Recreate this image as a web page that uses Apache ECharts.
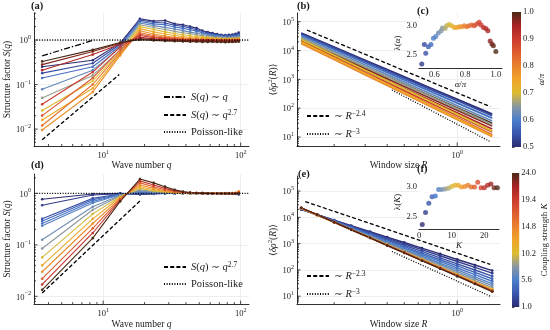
<!DOCTYPE html>
<html><head><meta charset="utf-8">
<script src="https://cdn.jsdelivr.net/npm/echarts@6/dist/echarts.min.js"></script>
<style>html,body{margin:0;padding:0;background:#fff}#c{width:550px;height:330px}</style>
</head><body><div id="c"></div>
<script>
// ---------------- DATA ----------------
// (a) structure factor vs wave number, colored by alpha/pi
const qA = [3.6, 8.4, 13.3, 18.5, 23.3, 28.2, 33.1, 38, 42.9, 47.8, 52.7, 57.6, 62.5, 67.4, 72.3, 77.2, 82.1, 87, 91.9, 96.8];
const alphaA = [0.50, 0.54, 0.58, 0.62, 0.66, 0.70, 0.74, 0.78, 0.82, 0.86, 0.90, 0.94, 0.97, 1.00];
const sqA = [
  [0.25, 0.35, 0.85, 3.0, 2.65, 2.75, 2.3, 2.2, 2.0, 1.85, 1.62, 1.5, 1.43, 1.36, 1.31, 1.29, 1.3, 1.33, 1.38, 1.46],
  [0.18, 0.30, 0.80, 2.8, 2.5, 2.4, 2.15, 2.02, 1.86, 1.7, 1.55, 1.43, 1.36, 1.3, 1.27, 1.25, 1.24, 1.27, 1.31, 1.36],
  [0.14, 0.25, 0.74, 2.6, 2.3, 2.2, 1.96, 1.82, 1.7, 1.58, 1.46, 1.36, 1.3, 1.25, 1.22, 1.2, 1.2, 1.21, 1.23, 1.27],
  [0.078, 0.21, 0.68, 2.4, 2.1, 1.92, 1.76, 1.62, 1.5, 1.42, 1.34, 1.27, 1.22, 1.18, 1.16, 1.15, 1.14, 1.15, 1.17, 1.2],
  [0.05, 0.16, 0.6, 2.2, 1.9, 1.72, 1.56, 1.46, 1.38, 1.31, 1.25, 1.2, 1.16, 1.13, 1.12, 1.1, 1.1, 1.11, 1.12, 1.14],
  [0.026, 0.12, 0.55, 2.0, 1.72, 1.52, 1.4, 1.31, 1.25, 1.2, 1.16, 1.13, 1.1, 1.08, 1.07, 1.06, 1.06, 1.06, 1.07, 1.09],
  [0.016, 0.082, 0.48, 1.8, 1.52, 1.36, 1.26, 1.19, 1.14, 1.12, 1.1, 1.08, 1.06, 1.05, 1.04, 1.04, 1.03, 1.04, 1.04, 1.05],
  [0.0095, 0.068, 0.45, 1.62, 1.36, 1.23, 1.15, 1.1, 1.08, 1.06, 1.05, 1.04, 1.03, 1.02, 1.02, 1.01, 1.01, 1.02, 1.02, 1.03],
  [0.012, 0.10, 0.52, 1.46, 1.26, 1.15, 1.1, 1.06, 1.04, 1.03, 1.02, 1.02, 1.01, 1.0, 1.01, 1.0, 1.0, 1.0, 1.01, 1.01],
  [0.02, 0.14, 0.6, 1.35, 1.18, 1.1, 1.06, 1.03, 1.02, 1.01, 1.0, 1.0, 1.0, 0.99, 0.99, 0.99, 0.98, 0.99, 0.99, 1.0],
  [0.036, 0.19, 0.7, 1.26, 1.12, 1.06, 1.03, 1.01, 1.0, 0.99, 0.99, 0.98, 0.98, 0.98, 0.97, 0.97, 0.97, 0.97, 0.98, 0.98],
  [0.21, 0.47, 0.8, 1.15, 1.06, 1.02, 1.0, 0.98, 0.97, 0.97, 0.96, 0.96, 0.96, 0.95, 0.95, 0.95, 0.94, 0.95, 0.95, 0.96],
  [0.28, 0.55, 0.85, 1.08, 1.02, 0.98, 0.96, 0.95, 0.94, 0.94, 0.93, 0.93, 0.93, 0.92, 0.92, 0.92, 0.92, 0.92, 0.93, 0.94],
  [0.33, 0.60, 0.88, 1.02, 0.98, 0.95, 0.94, 0.93, 0.92, 0.91, 0.9, 0.9, 0.91, 0.9, 0.9, 0.89, 0.9, 0.9, 0.91, 0.92]
];
// (d) structure factor vs wave number, colored by coupling strength K
const qD = [3.6, 8.4, 13.3, 18.5, 23.3, 28.2, 33.1, 38, 42.9, 47.8, 52.7, 57.6, 62.5, 67.4, 72.3, 77.2, 82.1, 87, 91.9, 96.8];
const kD = [1, 2, 3, 4, 5, 6, 7, 8, 10, 12, 14, 17, 20, 24];
const sqD = [
  [0.77, 0.97, 1.0, 0.95, 0.98, 1.0, 1.0, 1.0, 0.99, 1.0, 1.0, 0.99, 1.0, 1.0, 0.99, 1.0, 1.0, 0.99, 0.98, 0.95],
  [0.59, 0.93, 0.99, 0.97, 0.99, 1.0, 1.0, 1.0, 1.0, 0.99, 1.0, 1.0, 0.99, 1.0, 1.0, 0.99, 1.0, 1.0, 0.99, 0.97],
  [0.32, 0.8, 0.97, 1.0, 1.0, 1.0, 1.0, 1.0, 1.0, 1.0, 0.99, 1.0, 1.0, 1.0, 0.99, 1.0, 1.0, 1.0, 1.0, 0.98],
  [0.29, 0.75, 0.96, 1.02, 1.0, 1.0, 1.0, 1.0, 1.0, 1.0, 1.0, 0.99, 1.0, 1.0, 1.0, 1.0, 0.99, 1.0, 1.0, 1.0],
  [0.26, 0.7, 0.95, 1.05, 1.02, 1.01, 1.0, 1.0, 1.0, 1.0, 1.0, 1.0, 1.0, 1.0, 1.0, 1.0, 1.0, 1.0, 1.01, 1.0],
  [0.235, 0.65, 0.94, 1.08, 1.03, 1.02, 1.01, 1.0, 1.0, 1.0, 1.0, 1.0, 1.0, 1.0, 1.0, 1.0, 1.0, 1.01, 1.0, 1.02],
  [0.126, 0.55, 0.92, 1.12, 1.05, 1.03, 1.01, 1.0, 1.0, 1.0, 1.0, 1.0, 1.0, 1.0, 1.0, 1.0, 1.0, 1.0, 1.01, 1.03],
  [0.085, 0.48, 0.9, 1.18, 1.08, 1.04, 1.02, 1.01, 1.0, 1.0, 1.0, 1.0, 1.0, 1.0, 1.0, 1.0, 1.01, 1.0, 1.0, 1.04],
  [0.057, 0.4, 0.87, 1.25, 1.12, 1.06, 1.03, 1.02, 1.01, 1.0, 1.0, 1.0, 1.0, 1.0, 1.01, 1.0, 1.0, 1.0, 1.02, 1.06],
  [0.04, 0.32, 0.84, 1.35, 1.18, 1.09, 1.04, 1.02, 1.01, 1.01, 1.0, 1.0, 1.01, 1.0, 1.0, 1.0, 1.0, 1.01, 1.02, 1.08],
  [0.03, 0.26, 0.8, 1.45, 1.25, 1.12, 1.06, 1.03, 1.02, 1.01, 1.01, 1.0, 1.0, 1.0, 1.0, 1.01, 1.0, 1.0, 1.01, 1.1],
  [0.022, 0.21, 0.77, 1.6, 1.35, 1.18, 1.09, 1.05, 1.03, 1.02, 1.01, 1.0, 1.0, 1.0, 1.0, 1.0, 1.0, 1.0, 1.0, 1.05],
  [0.017, 0.17, 0.74, 1.75, 1.45, 1.25, 1.12, 1.06, 1.03, 1.02, 1.01, 1.0, 1.0, 0.99, 1.0, 0.99, 1.0, 0.99, 1.0, 1.02],
  [0.0134, 0.135, 0.7, 1.9, 1.6, 1.35, 1.17, 1.08, 1.04, 1.02, 1.01, 1.0, 0.99, 0.99, 0.99, 0.99, 0.99, 0.98, 0.99, 1.0]
];
// (b) density fluctuations vs window size, colored by alpha/pi
const rB = [0.13, 0.2, 0.3, 0.45, 0.7, 1.05, 1.58];
const alphaB = [0.50, 0.54, 0.58, 0.62, 0.66, 0.70, 0.74, 0.78, 0.82, 0.86, 0.90, 0.94, 0.97, 1.00];
const rhoB = [
  [40000, 13150, 4580, 1610, 511, 179, 62],
  [37000, 12080, 4180, 1450, 459, 160, 55],
  [34000, 10860, 3690, 1262, 390, 133, 45],
  [30000, 9440, 3155, 1060, 322, 108, 36],
  [27000, 8220, 2670, 871, 256, 84, 27],
  [24000, 6820, 2070, 634, 173, 53, 16],
  [20000, 5500, 1618, 480, 127, 37.7, 11],
  [18000, 5000, 1486, 445, 119, 35.6, 10.5],
  [17500, 4890, 1459, 439, 118, 35.4, 10.5],
  [18200, 5160, 1563, 478, 131, 40, 12],
  [19000, 5560, 1734, 546, 154, 48.4, 15],
  [21000, 6300, 2010, 646, 187, 60, 19],
  [23000, 7060, 2307, 759, 225, 74, 24],
  [25000, 7870, 2624, 883, 268, 90, 30]
];
// (e) density fluctuations vs window size, colored by K
const rE = [0.13, 0.16, 0.2, 0.25, 0.32, 0.4, 0.5, 0.63, 0.8, 1.0, 1.26, 1.58];
const kE = [1, 2, 3, 4, 5, 6, 7, 8, 10, 12, 14, 17, 20, 24];
const rhoE = [
  [19500, 12530, 7780, 4820, 2858, 1766, 1099, 673, 404, 249, 153, 94],
  [20000, 12590, 7660, 4620, 2680, 1618, 984, 589, 344, 208, 125, 75],
  [20500, 12590, 7480, 4400, 2477, 1462, 867, 506, 288, 169, 99, 58],
  [20500, 12360, 7180, 4150, 2280, 1318, 766, 437, 243, 141, 80, 46],
  [21000, 12390, 7050, 3980, 2140, 1210, 689, 384, 209, 118, 66, 37],
  [21000, 12190, 6810, 3780, 1987, 1102, 615, 337, 179, 100, 54.5, 30],
  [21500, 12250, 6710, 3660, 1888, 1028, 564, 303, 158, 86, 46, 25],
  [21500, 12080, 6520, 3490, 1770, 948, 513, 271, 139, 75, 39.4, 21],
  [22000, 12220, 6500, 3436, 1718, 908, 484, 252, 128, 67.6, 35.2, 18.5],
  [22000, 12160, 6440, 3390, 1683, 885, 470, 244, 123, 64.6, 33.5, 17.5],
  [22500, 12390, 6530, 3420, 1690, 885, 467, 241, 121, 63, 32.7, 17],
  [22500, 12330, 6470, 3365, 1656, 861, 452, 232, 116, 60, 30.9, 16],
  [23000, 12560, 6550, 3400, 1660, 861, 449, 229, 114, 59, 30.1, 15.5],
  [23000, 12530, 6520, 3365, 1641, 847, 442, 225, 111, 57.4, 29.2, 15]
];
// (c) exponent lambda(alpha)
const alphaC = [0.518, 0.535, 0.544, 0.561, 0.578, 0.594, 0.609, 0.626, 0.644, 0.652, 0.67, 0.68, 0.696, 0.713, 0.73, 0.746, 0.761, 0.778, 0.795, 0.81, 0.826, 0.844, 0.86, 0.876, 0.891, 0.904, 0.919, 0.935, 0.948, 0.963, 0.974, 0.984, 1.0];
const lambdaC = [2.33, 2.67, 2.52, 2.63, 2.67, 2.78, 2.81, 2.87, 2.91, 2.96, 2.95, 3.0, 3.02, 3.0, 2.97, 2.97, 2.98, 2.98, 3.0, 2.98, 3.0, 3.01, 3.0, 3.03, 3.06, 3.01, 2.97, 2.95, 2.91, 2.73, 2.68, 2.65, 2.55];
// (f) exponent lambda(K)
const kF = [1, 2, 3, 4, 5, 6, 7, 8, 9, 10, 11, 12, 13, 14, 15, 16, 17, 18, 19, 20, 21, 22, 23, 24];
const lambdaF = [2.37, 2.57, 2.72, 2.83, 2.84, 2.95, 2.95, 2.96, 2.97, 3.0, 3.02, 3.02, 2.99, 3.0, 3.02, 2.99, 2.99, 3.07, 2.98, 2.98, 3.02, 3.04, 2.98, 2.98];
// guide lines
const guideA1Q = [3.6, 8.6],  guideA1S = [0.44, 1.0];        // S ~ q
const guideA2Q = [3.6, 13.1], guideA2S = [0.0057, 0.168];    // S ~ q^2.7
const guideD2Q = [3.6, 18.6], guideD2S = [0.0116, 0.72];     // S ~ q^2.7
const guideB1R = [0.14, 1.54], guideB1V = [51500, 113];      // ~R^-2.4
const guideB2R = [0.426, 1.54], guideB2V = [428, 6.9];       // ~R^-3
const guideE1R = [0.137, 1.54], guideE1V = [39800, 163];     // ~R^-2.3
const guideE2R = [0.426, 1.54], guideE2V = [500, 10];        // ~R^-3
const poissonS = 1;
// axis ranges & tick labels
const qRange = [3.14, 115];
const sRangeA = [0.00415, 4.04];
const sRangeD = [0.00706, 2.38];
const rRange = [0.123, 1.75];
const vRangeB = [4.87, 200000];
const vRangeE = [5.0, 372000];
const cXRange = [0.5, 1.04], cYRange = [2.26, 3.134];
const fXRange = [0, 24.5], fYRange = [2.295, 3.19];
const cXTicks = [0.6, 0.8, 1.0], cYTicks = [2.5, 3.0];
const fXTicks = [0, 10, 20], fYTicks = [2.5, 3.0];
const cbAlphaRange = [0.5, 1.0], cbAlphaTicks = [0.5, 0.6, 0.7, 0.8, 0.9, 1.0];
const cbKRange = [1, 24], cbKTicks = [1.0, 5.6, 10.2, 14.8, 19.4, 24.0];

// ---------------- STYLE ----------------
const SERIF = "'Liberation Serif','DejaVu Serif',serif";
const INK = '#1a1a1a';
const CMAP = ['#2e2c72','#3a56ae','#4a7ecb','#8896a2','#dcbc30','#f0a42a','#e9822e','#de5c30','#cb3b2e','#a82424','#4a2a16'];
const ORDER_B = [13, 12, 11, 10, 0, 1, 2, 3, 4, 5, 9, 8, 7, 6]; // drawing order in (b)
function hex(h){return [parseInt(h.slice(1,3),16),parseInt(h.slice(3,5),16),parseInt(h.slice(5,7),16)];}
function cmap(t){
  t=Math.max(0,Math.min(1,t)); const n=CMAP.length-1; const i=Math.min(n-1,Math.floor(t*n)); const f=t*n-i;
  const a=hex(CMAP[i]), b=hex(CMAP[i+1]);
  return 'rgb('+a.map((v,k)=>Math.round(v+(b[k]-v)*f)).join(',')+')';
}
function mkRich(fs,nLH){
  const lh=Math.round(fs*(nLH||1.3));
  return {
    n:{fontFamily:SERIF,fontSize:fs,color:INK,verticalAlign:'bottom',lineHeight:lh},
    i:{fontFamily:SERIF,fontSize:fs,color:INK,fontStyle:'italic',verticalAlign:'bottom',lineHeight:lh},
    s:{fontFamily:SERIF,fontSize:Math.round(fs*0.72*10)/10,color:INK,verticalAlign:'top',lineHeight:Math.round(fs*0.95)}
  };
}
function powFmt(v){
  const l=Math.log10(v), e=Math.round(l);
  if(Math.abs(l-e)>1e-6) return '';
  return '{n|10}{s|'+(e<0?'\u2212'+(-e):e)+'}';
}
function logAxis(gi,range,extra){
  return Object.assign({
    type:'log',logBase:10,gridIndex:gi,min:range[0],max:range[1],
    axisLine:{show:true,onZero:false,lineStyle:{color:INK,width:0.9}},
    axisTick:{show:false},
    axisLabel:{formatter:powFmt,rich:mkRich(8.5),margin:3,showMinLabel:false,showMaxLabel:false},
    splitLine:{show:true,showMinLine:false,showMaxLine:false,lineStyle:{color:'#e6e6e6',width:0.7}},
    nameTextStyle:{rich:mkRich(9.5)}
  },extra||{});
}
function linAxis(gi,range,ticks,extra){
  return Object.assign({
    type:'value',gridIndex:gi,min:range[0],max:range[1],
    axisLine:{show:true,onZero:false,lineStyle:{color:INK,width:0.9}},
    axisTick:{show:true,inside:true,length:3,customValues:ticks,lineStyle:{color:INK,width:0.8}},
    axisLabel:{customValues:ticks,formatter:v=>(Number.isInteger(v)&&ticks[ticks.length-1]>5)?String(v):v.toFixed(1),fontFamily:SERIF,fontSize:8.5,color:INK,margin:2},
    splitLine:{show:false},
    nameTextStyle:{rich:mkRich(9)}
  },extra||{});
}
function logTickVals(r){
  const out=[];
  for(let k=Math.floor(Math.log10(r[0]));k<=Math.ceil(Math.log10(r[1]));k++){
    for(let m=1;m<=9;m++){const v=m*Math.pow(10,k); if(v>r[0]*1.0001&&v<r[1]*0.9999) out.push([v,m===1?1:0]);}
  }
  return out;
}
function tickSeries(gi,xr,yr){
  const data=[];
  logTickVals(xr).forEach(t=>data.push([t[0],yr[0],t[1],0]));
  logTickVals(yr).forEach(t=>data.push([xr[0],t[0],t[1],1]));
  return {type:'custom',xAxisIndex:gi,yAxisIndex:gi,silent:true,z:10,clip:false,data,
    renderItem:(p,api)=>{
      const cs=p.coordSys; const pt=api.coord([api.value(0),api.value(1)]); const len=api.value(2)?3.5:2;
      if(api.value(3)===0){const yb=cs.y+cs.height; return {type:'line',shape:{x1:pt[0],y1:yb,x2:pt[0],y2:yb-len},style:{stroke:INK,lineWidth:0.8}};}
      return {type:'line',shape:{x1:cs.x,y1:pt[1],x2:cs.x+len,y2:pt[1]},style:{stroke:INK,lineWidth:0.8}};
    }};
}
function cbarSeries(gi,r){
  return {type:'custom',xAxisIndex:gi,yAxisIndex:gi,silent:true,data:[[0,r[0]]],
    renderItem:(p,api)=>{
      const a=api.coord([0,r[0]]), b=api.coord([1,r[1]]);
      return {type:'rect',shape:{x:a[0],y:b[1],width:b[0]-a[0],height:a[1]-b[1]},
        style:{fill:new echarts.graphic.LinearGradient(0,1,0,0,CMAP.map((c,i)=>({offset:i/(CMAP.length-1),color:c})))}};
    }};
}
function zip(a,b){return a.map((v,i)=>[v,b[i]]);}

// ---------------- SERIES ----------------
const series=[];
alphaA.forEach((a,i)=>{const c=cmap((a-0.5)/0.5);
  series.push({type:'line',xAxisIndex:0,yAxisIndex:0,silent:true,z:2,data:zip(qA,sqA[i]),symbol:'circle',symbolSize:2.6,lineStyle:{color:c,width:1.1},itemStyle:{color:c}});});
kD.forEach((k,i)=>{const c=cmap((k-1)/23);
  series.push({type:'line',xAxisIndex:3,yAxisIndex:3,silent:true,z:2,data:zip(qD,sqD[i]),symbol:'circle',symbolSize:2.6,lineStyle:{color:c,width:1.1},itemStyle:{color:c}});});
ORDER_B.forEach(i=>{const c=cmap((alphaB[i]-0.5)/0.5);
  series.push({type:'line',xAxisIndex:1,yAxisIndex:1,silent:true,z:2,data:zip(rB,rhoB[i]),symbol:'none',lineStyle:{color:c,width:1.8}});});
kE.forEach((k,i)=>{const c=cmap((k-1)/23);
  series.push({type:'line',xAxisIndex:4,yAxisIndex:4,silent:true,z:2,data:zip(rE,rhoE[i]),symbol:'circle',symbolSize:2.8,lineStyle:{color:c,width:1.4},itemStyle:{color:c}});});
series.push({type:'scatter',xAxisIndex:2,yAxisIndex:2,silent:true,symbolSize:5,z:3,
  data:alphaC.map((a,i)=>({value:[a,lambdaC[i]],itemStyle:{color:cmap((a-0.5)/0.5)}}))});
series.push({type:'scatter',xAxisIndex:5,yAxisIndex:5,silent:true,symbolSize:5,z:3,
  data:kF.map((k,i)=>({value:[k,lambdaF[i]],itemStyle:{color:cmap((k-1)/23)}}))});
const DASHDOT=[6,2,1.5,2], DASH=[4,2.2], DOT=[1,1.6];
function guide(name,gi,xs,ys,type){return {name,type:'line',xAxisIndex:gi,yAxisIndex:gi,silent:true,z:6,data:zip(xs,ys),symbol:'none',itemStyle:{color:'#000'},lineStyle:{color:'#000',width:1.3,type}};}
series.push(guide('gLin',0,guideA1Q,guideA1S,DASHDOT));
series.push(guide('gQ27',0,guideA2Q,guideA2S,DASH));
series.push(guide('gPois',0,qRange,[poissonS,poissonS],DOT));
series.push(guide('gQ27',3,guideD2Q,guideD2S,DASH));
series.push(guide('gPois',3,qRange,[poissonS,poissonS],DOT));
series.push(guide('gR24',1,guideB1R,guideB1V,DASH));
series.push(guide('gR3',1,guideB2R,guideB2V,DOT));
series.push(guide('gR23',4,guideE1R,guideE1V,DASH));
series.push(guide('gR3',4,guideE2R,guideE2V,DOT));
series.push(tickSeries(0,qRange,sRangeA));
series.push(tickSeries(3,qRange,sRangeD));
series.push(tickSeries(1,rRange,vRangeB));
series.push(tickSeries(4,rRange,vRangeE));
series.push(cbarSeries(6,cbAlphaRange));
series.push(cbarSeries(7,cbKRange));

const LEG={
  gLin:'{i|S}{n|(}{i|q}{n|) \u223C }{i|q}',
  gQ27:'{i|S}{n|(}{i|q}{n|) \u223C }{i|q}{s|2.7}',
  gPois:'{n|Poisson-like}',
  gR24:'{n|\u223C }{i|R}{s|\u22122.4}',
  gR23:'{n|\u223C }{i|R}{s|\u22122.3}',
  gR3:'{n|\u223C }{i|R}{s|\u22123}'
};
function legend(names,left,top){
  return {show:true,orient:'vertical',left,top,padding:0,itemWidth:22,itemHeight:8,itemGap:6,selectedMode:false,
    itemStyle:{opacity:0},
    data:names,formatter:n=>LEG[n],textStyle:{fontFamily:SERIF,fontSize:10.5,color:INK,rich:mkRich(10.5,1.1)}};
}

const option={
  animation:false,
  backgroundColor:'#fff',
  textStyle:{fontFamily:SERIF},
  grid:[
    {left:34,top:13,width:215,height:133},
    {left:297,top:13,width:203,height:133},
    {left:419,top:18,width:83,height:50,show:true,backgroundColor:'#fff',borderWidth:0,z:1},
    {left:34,top:174,width:215,height:134},
    {left:297,top:176,width:203,height:134},
    {left:419,top:175,width:80,height:54,show:true,backgroundColor:'#fff',borderWidth:0,z:1},
    {left:512,top:12,width:9,height:135},
    {left:512,top:173,width:9,height:134}
  ],
  xAxis:[
    logAxis(0,qRange,{name:'{n|Wave number }{i|q}',nameLocation:'middle',nameGap:11}),
    logAxis(1,rRange,{name:'{n|Window size }{i|R}',nameLocation:'middle',nameGap:11}),
    linAxis(2,cXRange,cXTicks,{name:'{i|\u03B1}{n|/}{i|\u03C0}',nameLocation:'middle',nameGap:9}),
    logAxis(3,qRange,{name:'{n|Wave number }{i|q}',nameLocation:'middle',nameGap:10}),
    logAxis(4,rRange,{name:'{n|Window size }{i|R}',nameLocation:'middle',nameGap:8}),
    linAxis(5,fXRange,fXTicks,{name:'{i|K}',nameLocation:'middle',nameGap:9}),
    {type:'value',gridIndex:6,min:0,max:1,show:false},
    {type:'value',gridIndex:7,min:0,max:1,show:false}
  ],
  yAxis:[
    logAxis(0,sRangeA,{name:'{n|Structure factor }{i|S}{n|(}{i|q}{n|)}',nameLocation:'middle',nameGap:20,nameRotate:90}),
    logAxis(1,vRangeB,{name:'{n|\u27E8}{i|\u03B4\u03C1}{s|2}{n|(}{i|R}{n|)\u27E9}',nameLocation:'middle',nameGap:16,nameRotate:90}),
    linAxis(2,cYRange,cYTicks,{name:'{n|\u03BB(}{i|\u03B1}{n|)}',nameLocation:'middle',nameGap:15,nameRotate:90}),
    logAxis(3,sRangeD,{name:'{n|Structure factor }{i|S}{n|(}{i|q}{n|)}',nameLocation:'middle',nameGap:20,nameRotate:90}),
    logAxis(4,vRangeE,{name:'{n|\u27E8}{i|\u03B4\u03C1}{s|2}{n|(}{i|R}{n|)\u27E9}',nameLocation:'middle',nameGap:16,nameRotate:90}),
    linAxis(5,fYRange,fYTicks,{name:'{n|\u03BB(}{i|K}{n|)}',nameLocation:'middle',nameGap:15,nameRotate:90}),
    {type:'value',gridIndex:6,min:cbAlphaRange[0],max:cbAlphaRange[1],position:'right',axisLine:{show:false},
      axisTick:{show:true,length:2.5,customValues:cbAlphaTicks,lineStyle:{color:INK,width:0.8}},
      axisLabel:{customValues:cbAlphaTicks,formatter:v=>v.toFixed(1),fontFamily:SERIF,fontSize:8.5,color:INK,margin:2},
      splitLine:{show:false},name:'{i|\u03B1}{n|/}{i|\u03C0}',nameLocation:'middle',nameRotate:90,nameGap:13,nameTextStyle:{rich:mkRich(9)}},
    {type:'value',gridIndex:7,min:cbKRange[0],max:cbKRange[1],position:'right',axisLine:{show:false},
      axisTick:{show:true,length:2.5,customValues:cbKTicks,lineStyle:{color:INK,width:0.8}},
      axisLabel:{customValues:cbKTicks,formatter:v=>v.toFixed(1),fontFamily:SERIF,fontSize:8.5,color:INK,margin:2},
      splitLine:{show:false},name:'{n|Coupling strength }{i|K}',nameLocation:'middle',nameRotate:90,nameGap:17,nameTextStyle:{rich:mkRich(9)}}
  ],
  legend:[
    legend(['gLin','gQ27','gPois'],163,92),
    legend(['gQ27','gPois'],163,261),
    legend(['gR24','gR3'],306,110),
    legend(['gR23','gR3'],306,270)
  ],
  graphic:[
    {type:'text',left:31,top:1,style:{text:'(a)',font:'bold 10.5px '+SERIF,fill:INK}},
    {type:'text',left:297,top:1,style:{text:'(b)',font:'bold 10.5px '+SERIF,fill:INK}},
    {type:'text',left:417,top:6,style:{text:'(c)',font:'bold 10.5px '+SERIF,fill:INK}},
    {type:'text',left:31,top:160,style:{text:'(d)',font:'bold 10.5px '+SERIF,fill:INK}},
    {type:'text',left:298,top:169,style:{text:'(e)',font:'bold 10.5px '+SERIF,fill:INK}},
    {type:'text',left:417,top:164,style:{text:'(f)',font:'bold 10.5px '+SERIF,fill:INK}}
  ],
  series
};
const chart=echarts.init(document.getElementById('c'),null,{renderer:'canvas'});
chart.setOption(option);
</script></body></html>
